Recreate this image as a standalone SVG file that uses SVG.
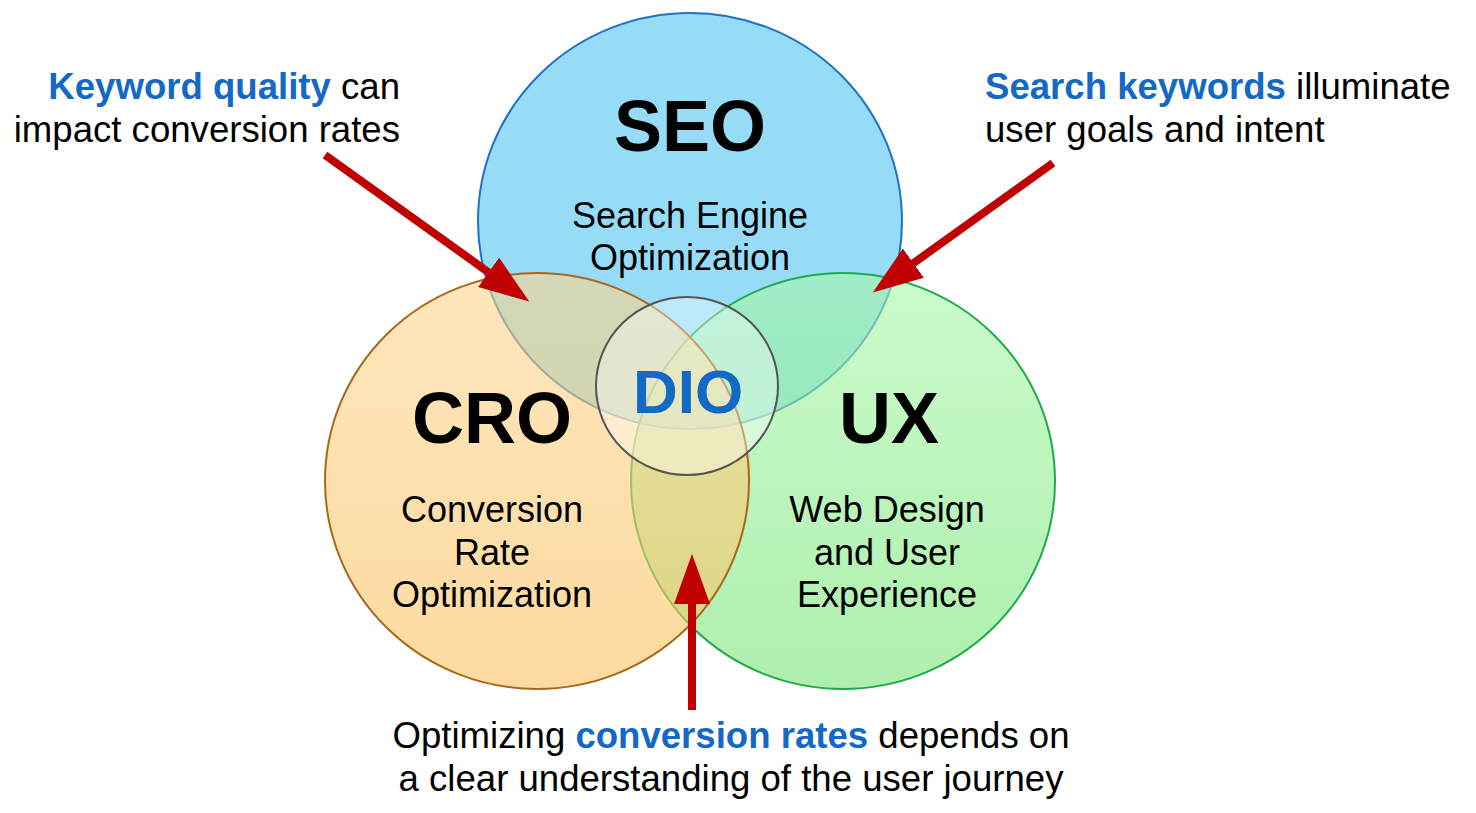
<svg xmlns="http://www.w3.org/2000/svg" width="1476" height="813" viewBox="0 0 1476 813">
<defs>
<linearGradient id="gCro" x1="0" y1="0" x2="0" y2="1">
<stop offset="0" stop-color="#fdd590"/>
<stop offset="1" stop-color="#fbc260"/>
</linearGradient>
<linearGradient id="gUx" x1="0" y1="0" x2="0" y2="1">
<stop offset="0" stop-color="#a8f8a8"/>
<stop offset="1" stop-color="#78e478"/>
</linearGradient>
<marker id="ah" markerUnits="userSpaceOnUse" markerWidth="52" markerHeight="38" refX="1" refY="18" orient="auto">
<path d="M0,0 L50,18 L0,36 z" fill="#c00000"/>
</marker>
<style>
text{font-family:"Liberation Sans",Arial,sans-serif;fill:#000}
.title{font-size:72px;font-weight:bold;text-anchor:middle}
.sub{font-size:36px;text-anchor:middle}
.note{font-size:36.6px}
.hl{font-weight:bold;fill:#1469c4}
.arrow{stroke:#c00000;stroke-width:8;fill:none;marker-end:url(#ah)}
</style>
</defs>
<g id="seo">
<ellipse cx="690" cy="221" rx="212" ry="208" fill="#97dcf7" stroke="#1f72c4" stroke-width="2"/>
<text class="title" x="690" y="151">SEO</text>
<text class="sub" x="690" y="228">Search Engine</text>
<text class="sub" x="690" y="270">Optimization</text>
</g>
<g id="ux">
<ellipse cx="843" cy="481" rx="212" ry="208" fill="url(#gUx)" fill-opacity="0.6" stroke="#1faa4c" stroke-width="2"/>
<text class="title" x="889" y="443">UX</text>
<text class="sub" x="887" y="522">Web Design</text>
<text class="sub" x="887" y="565">and User</text>
<text class="sub" x="887" y="607">Experience</text>
</g>
<g id="cro">
<ellipse cx="537" cy="481" rx="212" ry="208" fill="url(#gCro)" fill-opacity="0.6" stroke="#a8681c" stroke-width="2"/>
<text class="title" x="492" y="443">CRO</text>
<text class="sub" x="492" y="522">Conversion</text>
<text class="sub" x="492" y="565">Rate</text>
<text class="sub" x="492" y="607">Optimization</text>
</g>
<g id="dio">
<ellipse cx="687" cy="386" rx="91" ry="89" fill="#ffffff" fill-opacity="0.38" stroke="#555555" stroke-width="2"/>
<text x="688" y="413" style="font-size:62px;font-weight:bold;text-anchor:middle;fill:#1469c4">DIO</text>
</g>
<g id="connectors">
<line class="arrow" x1="325" y1="155" x2="489.4" y2="272.9"/>
<line class="arrow" x1="1053" y1="163" x2="912.6" y2="263.8"/>
<line class="arrow" x1="692" y1="710" x2="692" y2="603"/>
</g>
<g id="note-left">
<text class="note" x="400" y="99" text-anchor="end"><tspan class="hl">Keyword quality</tspan> can</text>
<text class="note" x="400" y="142" text-anchor="end">impact conversion rates</text>
</g>
<g id="note-right">
<text class="note" x="985" y="99"><tspan class="hl">Search keywords</tspan> illuminate</text>
<text class="note" x="985" y="142">user goals and intent</text>
</g>
<g id="note-bottom">
<text class="note" x="731" y="748" text-anchor="middle">Optimizing <tspan class="hl">conversion rates</tspan> depends on</text>
<text class="note" x="731" y="791" text-anchor="middle">a clear understanding of the user journey</text>
</g>
</svg>
